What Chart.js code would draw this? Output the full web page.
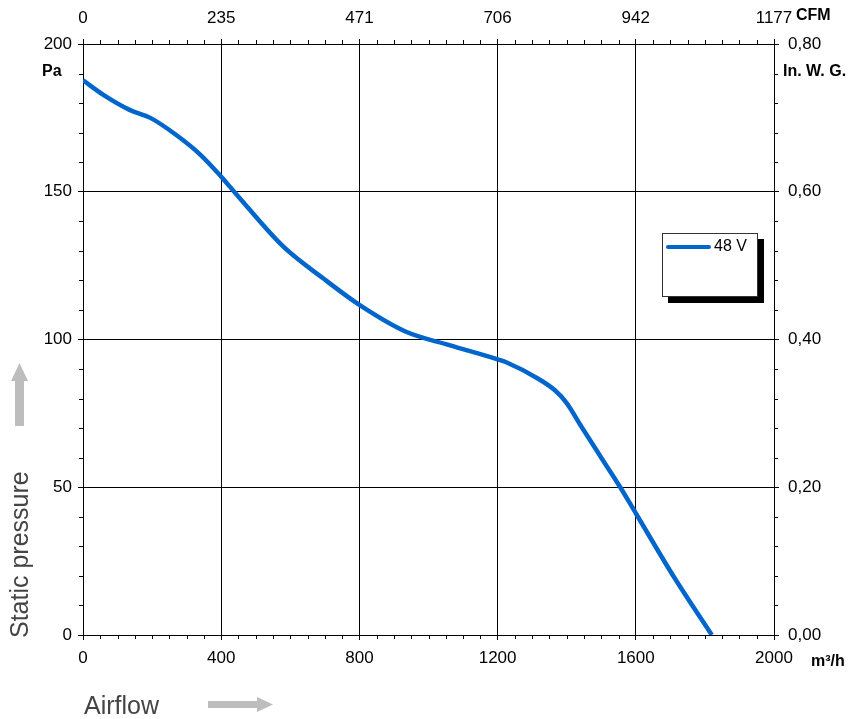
<!DOCTYPE html>
<html>
<head>
<meta charset="utf-8">
<script src="https://cdn.jsdelivr.net/npm/chart.js@4.4.1/dist/chart.umd.min.js"></script>
<style>
    html, body { margin: 0; padding: 0; background: #fff; }
    #wrap { width: 851px; height: 719px; position: relative; }
</style>
</head>
<body>
<div id="wrap"><canvas id="fanChart"></canvas></div>
<script>
// values (m³/h vs Pa)
const airflow = [0, 60, 135, 195, 270, 340, 400, 445, 580, 695, 800, 935, 1060, 1200, 1225, 1315, 1365, 1400, 1440, 1500, 1555, 1600, 1710, 1820];
const pressure = [187.7, 182.7, 177.7, 175, 169.2, 162.5, 155.1, 149, 131.4, 120.7, 111.7, 102.6, 98.1, 93.3, 92.3, 86.9, 82.9, 78.5, 71, 60, 50, 41.2, 19.7, 0];
const seriesName = '48 V';

const cfmLabels = ['0', '235', '471', '706', '942', '1177'];
const inwgLabels = ['0,00', '0,20', '0,40', '0,60', '0,80'];

const FONT = '"Liberation Sans", Arial, sans-serif';
const lineColor = '#0066cc';

// minor ticks, titles, arrows and the boxed legend
const extras = {
    id: 'extras',
    afterDraw(chart) {
        const ctx = chart.ctx;
        const { x, y } = chart.scales;
        ctx.save();
        ctx.strokeStyle = '#000';
        ctx.lineWidth = 1;
        ctx.beginPath();
        for (let v = 0; v <= 2000; v += 50) {
            if (v % 400 === 0) continue;
            const px = Math.round(x.getPixelForValue(v)) + 0.5;
            ctx.moveTo(px, y.bottom); ctx.lineTo(px, y.bottom + 4);
            ctx.moveTo(px, y.top); ctx.lineTo(px, y.top - 4);
        }
        for (let v = 0; v <= 200; v += 10) {
            if (v % 50 === 0) continue;
            const py = Math.round(y.getPixelForValue(v)) + 0.5;
            ctx.moveTo(x.left, py); ctx.lineTo(x.left - 4, py);
            ctx.moveTo(x.right, py); ctx.lineTo(x.right + 4, py);
        }
        ctx.stroke();

        // unit labels
        ctx.fillStyle = '#000';
        ctx.font = 'bold 16px ' + FONT;
        ctx.textBaseline = 'middle';
        ctx.textAlign = 'left';
        ctx.fillText('Pa', 42, 72);
        ctx.fillText('In. W. G.', 783, 72);
        ctx.fillText('CFM', 796, 16);
        ctx.fillText('m³/h', 811, 662);

        // axis titles
        ctx.fillStyle = '#444';
        ctx.font = '25px ' + FONT;
        ctx.textAlign = 'left';
        ctx.textBaseline = 'alphabetic';
        ctx.fillText('Airflow', 84, 714);
        ctx.save();
        ctx.translate(28, 638);
        ctx.rotate(-Math.PI / 2);
        ctx.fillText('Static pressure', 0, 0);
        ctx.restore();

        // grey arrows
        ctx.fillStyle = '#bdbdbd';
        ctx.beginPath();
        ctx.moveTo(15, 426); ctx.lineTo(24, 426); ctx.lineTo(24, 381); ctx.lineTo(28, 381);
        ctx.lineTo(19.5, 363); ctx.lineTo(11, 381); ctx.lineTo(15, 381); ctx.closePath();
        ctx.fill();
        ctx.beginPath();
        ctx.moveTo(208, 701); ctx.lineTo(257, 701); ctx.lineTo(257, 697); ctx.lineTo(273, 704.5);
        ctx.lineTo(257, 712); ctx.lineTo(257, 708); ctx.lineTo(208, 708); ctx.closePath();
        ctx.fill();

        // legend box with shadow
        ctx.fillStyle = '#000';
        ctx.fillRect(668, 239, 96, 64);
        ctx.fillStyle = '#fff';
        ctx.fillRect(662, 233, 96, 64);
        ctx.strokeStyle = '#333';
        ctx.strokeRect(662.5, 233.5, 95, 63);
        ctx.strokeStyle = lineColor;
        ctx.lineWidth = 4;
        ctx.lineCap = 'round';
        ctx.beginPath();
        ctx.moveTo(668, 247); ctx.lineTo(709, 247);
        ctx.stroke();
        ctx.fillStyle = '#000';
        ctx.font = '16px ' + FONT;
        ctx.textBaseline = 'middle';
        ctx.fillText(chart.data.datasets[0].label, 714, 247);
        ctx.restore();
    }
};

const gridOpts = { color: '#000', lineWidth: 1, tickLength: 5, tickColor: '#000' };
const tickFont = { family: FONT, size: 17 };

new Chart(document.getElementById('fanChart'), {
    type: 'line',
    data: {
        datasets: [{
            label: seriesName,
            data: airflow.map((v, i) => ({ x: v, y: pressure[i] })),
            borderColor: lineColor,
            borderWidth: 4.5,
            pointRadius: 0,
            tension: 0.4,
            cubicInterpolationMode: 'monotone',
            fill: false
        }]
    },
    options: {
        responsive: true,
        maintainAspectRatio: false,
        animation: false,
        layout: { padding: 0 },
        plugins: { legend: { display: false }, tooltip: { enabled: false } },
        scales: {
            x: {
                type: 'linear', position: 'bottom', min: 0, max: 2000,
                grid: gridOpts,
                border: { color: '#000', width: 1 },
                ticks: {
                    stepSize: 400, color: '#000', font: tickFont, padding: 8, maxRotation: 0, autoSkip: false,
                    callback: (v) => String(v)
                },
                afterFit: s => { s.height = 84; }
            },
            x2: {
                type: 'linear', position: 'top', min: 0, max: 2000,
                grid: { ...gridOpts, drawOnChartArea: false },
                border: { color: '#000', width: 1 },
                ticks: {
                    stepSize: 400, color: '#000', font: tickFont, padding: 10, maxRotation: 0, autoSkip: false,
                    callback: (v) => cfmLabels[Math.round(v / 400)]
                },
                afterFit: s => { s.height = 44; }
            },
            y: {
                type: 'linear', position: 'left', min: 0, max: 200,
                grid: gridOpts,
                border: { color: '#000', width: 1 },
                ticks: { stepSize: 50, color: '#000', font: tickFont, padding: 6 },
                afterFit: s => { s.width = 83; }
            },
            y2: {
                type: 'linear', position: 'right', min: 0, max: 200,
                grid: { ...gridOpts, drawOnChartArea: false },
                border: { color: '#000', width: 1 },
                ticks: {
                    stepSize: 50, color: '#000', font: tickFont, padding: 9,
                    callback: (v) => inwgLabels[Math.round(v / 50)]
                },
                afterFit: s => { s.width = 77; }
            }
        }
    },
    plugins: [extras]
});
</script>
</body>
</html>
